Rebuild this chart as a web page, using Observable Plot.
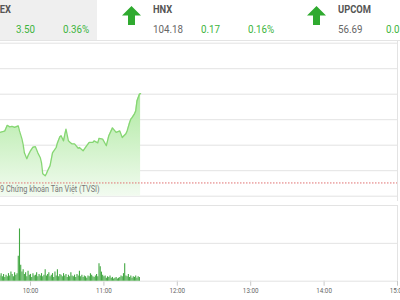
<!DOCTYPE html>
<html>
<head>
<meta charset="utf-8">
<script src="https://cdn.jsdelivr.net/npm/d3@7"></script>
<script src="https://cdn.jsdelivr.net/npm/@observablehq/plot@0.6"></script>
<style>
html, body { margin:0; padding:0; width:400px; height:300px; overflow:hidden; background:#fff; }
body { position:relative; font-family:Roboto, "Liberation Sans", sans-serif; }
#header { position:absolute; left:0; top:0; width:400px; height:40px; border-bottom:1px solid #e4e4e4; overflow:hidden; }
.panel { position:absolute; top:0; height:40px; width:185px; }
.panel.active { background:#efefef; width:160px; }
.name, .val, .chg, .pct { position:absolute; white-space:nowrap; transform:scaleX(0.85); transform-origin:0 0; }
.name { top:3px; font-weight:bold; font-size:11px; color:#555; }
.val { top:22px; font-size:11.5px; color:#666; }
.chg, .pct { top:22px; font-size:11.5px; color:#3cb43c; }
.arrow { position:absolute; top:6px; }
#price { position:absolute; left:0; top:41px; }
#volume { position:absolute; left:0; top:201px; }
#credit { position:absolute; left:0; top:184px; font-size:8.5px; color:#777; z-index:2; white-space:nowrap; transform:scaleX(0.86); transform-origin:0 0; }
</style>
</head>
<body>
<svg width="0" height="0" style="position:absolute">
  <defs>
    <linearGradient id="pg" x1="0" y1="0" x2="0" y2="1">
      <stop offset="0" stop-color="#aee9a0"/>
      <stop offset="1" stop-color="#f2fbf0"/>
    </linearGradient>
  </defs>
</svg>
<div id="header"></div>
<div id="price"></div>
<div id="credit">9 Chứng khoán Tân Việt (TVSI)</div>
<div id="volume"></div>
<script>
// ---- data ----
const indexNames = ["VN-INDEX", "HNX", "UPCOM"];
const indexValues = ["976.02", "104.18", "56.69"];
const indexChanges = ["3.50", "0.17", "0.05"];
const indexPercents = ["0.36%", "0.16%", "0.09%"];

const priceTimes = ["09:35","09:38","09:39","09:41","09:43","09:45","09:47","09:50","09:51","09:53","09:54","09:55","09:57","09:58","10:00","10:02","10:04","10:06","10:08","10:09","10:10","10:12","10:13","10:14","10:16","10:18","10:21","10:22","10:24","10:25","10:27","10:28","10:29","10:31","10:32","10:34","10:36","10:39","10:40","10:43","10:46","10:48","10:51","10:52","10:55","10:56","10:59","11:02","11:04","11:07","11:10","11:13","11:15","11:18","11:19","11:21","11:22","11:23","11:25","11:26","11:27","11:29","11:30"];
const priceValues = [974.50,974.54,974.56,974.78,974.72,974.74,974.70,974.76,974.56,974.25,974.02,973.70,973.47,973.59,973.78,973.92,973.94,973.70,973.51,973.31,972.88,972.80,972.88,973.00,973.20,973.70,973.91,974.09,974.33,974.37,974.17,974.41,974.63,974.17,974.13,974.05,974.05,973.88,973.91,973.78,973.98,974.11,974.11,974.17,974.09,974.27,974.24,973.98,974.37,974.68,974.50,974.56,974.30,974.45,974.56,974.89,975.02,975.08,975.23,975.34,975.73,976.00,976.02];
const referencePrice = 972.52;
const priceGridValues = [972, 973, 974, 975, 976, 977, 978];

const volumeStart = "09:35";
const volumeValues = [70,100,60,90,50,80,60,100,70,120,90,60,110,80,100,330,690,210,120,150,90,110,60,130,80,90,50,100,70,80,110,60,90,70,100,60,80,150,70,90,110,60,80,100,50,120,70,150,60,90,80,60,100,70,90,50,80,60,110,70,60,80,50,90,70,130,60,80,50,70,60,40,70,60,100,80,60,50,70,90,60,230,190,120,80,60,70,40,60,50,70,40,50,30,40,50,30,40,50,70,60,100,230,70,60,90,50,70,40,60,50,70,40,60,50];
const volumeGridValues = [0, 500, 1000];

const hourTicks = ["10:00","11:00","12:00","13:00","14:00","15:00"];
const sessionDomain = ["09:00","15:00"];

// ---- helpers ----
const toDate = hm => new Date(Date.UTC(2019, 0, 1, +hm.slice(0, 2), +hm.slice(3, 5)));

// ---- header ----
const header = document.getElementById("header");
indexNames.forEach((name, i) => {
  const L = -63 + 185 * i;
  const p = document.createElement("div");
  p.className = "panel" + (i === 0 ? " active" : "");
  p.style.left = L + "px";
  p.innerHTML =
    `<svg class="arrow" width="19" height="19" viewBox="0 0 19 19" style="left:0px"><polygon points="9.5,0 19,9.5 13,9.5 13,19 6,19 6,9.5 0,9.5" fill="#2faa2f"/></svg>` +
    `<div class="name" style="left:31px">${name}</div>` +
    `<div class="val" style="left:31px">${indexValues[i]}</div>` +
    `<div class="chg" style="left:79px">${indexChanges[i]}</div>` +
    `<div class="pct" style="left:126px">${indexPercents[i]}</div>`;
  header.appendChild(p);
});

// ---- tables ----
const priceTable = priceTimes.map((t, i) => ({t: toDate(t), v: priceValues[i]}));
const vs = toDate(volumeStart);
const volumeTable = volumeValues.map((v, i) => ({t: new Date(+vs + i * 60000), v}));
const xDomain = sessionDomain.map(toDate);
const xRange = [-43.4, 397];

// ---- price chart ----
const price = Plot.plot({
  width: 400, height: 160,
  marginTop: 0, marginBottom: 0, marginLeft: 0, marginRight: 3,
  style: {background: "transparent"},
  x: {type: "utc", domain: xDomain, range: xRange, axis: null},
  y: {domain: [972, 978], range: [154.7, 1.7], axis: null},
  marks: [
    Plot.ruleY(priceGridValues, {stroke: "#e3e3e3", strokeWidth: 1}),
    Plot.ruleX([xDomain[1]], {stroke: "#e3e3e3"}),
    Plot.areaY(priceTable, {x: "t", y1: 972, y2: "v", fill: "url(#pg)"}),
    Plot.lineY(priceTable, {x: "t", y: "v", stroke: "#86d673", strokeWidth: 1.3}),
    Plot.ruleY([referencePrice], {stroke: "#e07070", strokeWidth: 1, strokeDasharray: "1.5,1.5"})
  ]
});
document.getElementById("price").appendChild(price);

// ---- volume chart ----
const volume = Plot.plot({
  width: 400, height: 99,
  marginTop: 4, marginBottom: 19.3, marginLeft: 0, marginRight: 3,
  style: {background: "transparent", color: "#666", fontSize: "7.4px", fontFamily: "Roboto, sans-serif"},
  x: {type: "utc", domain: xDomain, range: xRange, ticks: hourTicks.map(toDate), tickFormat: d3.utcFormat("%H:%M"), tickSize: 5, tickPadding: 2, label: null},
  y: {domain: [0, 1000], axis: null},
  marks: [
    Plot.ruleY(volumeGridValues, {stroke: "#e3e3e3"}),
    Plot.ruleX([xDomain[1]], {y1: 0, y2: 1000, stroke: "#e3e3e3"}),
    Plot.ruleX(volumeTable, {x: "t", y1: 0, y2: "v", stroke: "#43a843", strokeWidth: 1.1})
  ]
});
d3.select(volume).selectAll('g[aria-label="x-axis tick"]').attr("stroke", "#c8c8c8");
d3.select(volume).selectAll('g[aria-label="x-axis"] line').attr("stroke", "#c8c8c8");
d3.select(volume).selectAll('g[aria-label="x-axis tick label"] text, g[aria-label="x-axis"] text')
  .attr("transform", function () { const t = this.getAttribute("transform") || ""; return t + " scale(0.85,1)"; });
document.getElementById("volume").appendChild(volume);
</script>
</body>
</html>
